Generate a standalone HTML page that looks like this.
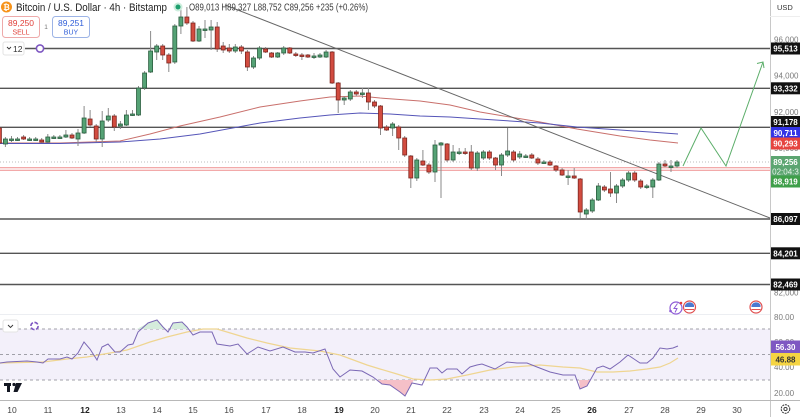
<!DOCTYPE html>
<html><head><meta charset="utf-8">
<style>
html,body{margin:0;padding:0;background:#fff;}
svg{display:block;font-family:"Liberation Sans",sans-serif;}
</style></head>
<body>
<svg width="800" height="417" viewBox="0 0 800 417" xmlns="http://www.w3.org/2000/svg">
<rect width="800" height="417" fill="#fff"/>

<!-- support zone / current price -->
<rect x="0" y="167" width="770" height="4" fill="#fbe3e3"/>
<line x1="0" y1="167.5" x2="770" y2="167.5" stroke="#f2a9a9" stroke-width="1"/>
<line x1="0" y1="170.5" x2="770" y2="170.5" stroke="#f2a9a9" stroke-width="1"/>
<line x1="0" y1="162" x2="770" y2="162" stroke="#bdbdbd" stroke-width="1" stroke-dasharray="1,2"/>

<!-- horizontal levels -->
<g stroke="#555" stroke-width="1.4">
<line x1="25" y1="48.5" x2="770" y2="48.5"/>
<line x1="0" y1="88.3" x2="770" y2="88.3"/>
<line x1="0" y1="127.3" x2="770" y2="127.3"/>
<line x1="0" y1="219" x2="770" y2="219"/>
<line x1="0" y1="253.3" x2="770" y2="253.3"/>
<line x1="0" y1="284.5" x2="770" y2="284.5"/>
</g>

<!-- moving averages -->
<polyline fill="none" stroke="#c9706c" stroke-width="1" points="0,143 60,143 120,141 150,134 180,126 220,117 260,107 300,101 330,97 360,96 380,98 420,101 450,105 480,112 510,117 540,122 577,129 620,136 650,140 678,143"/>
<polyline fill="none" stroke="#5555b8" stroke-width="1" points="0,143.5 60,143.5 120,142 160,139 200,134 260,123 300,118 330,115 360,113 390,114 420,116 450,117 480,119 510,121 540,123 577,127 620,130 650,132 678,134"/>

<!-- trendline -->
<line x1="225" y1="5" x2="770" y2="218" stroke="#666" stroke-width="1"/>

<!-- wicks -->
<path fill="none" stroke="#8a8a8a" stroke-width="1" d="M-0.6 125V146M5.4 137V147M11.5 136V142M17.5 137V141M23.6 135V140M29.6 137V141M35.7 137V141M41.7 138V143M47.8 134V143M53.8 135V139M59.9 135V139M65.9 130V138M72 133V139M78 129V146M84.1 106V134M90.1 110V127M96.2 124V142M102.2 111V147M108.3 108V122M114.3 114V131M120.4 121V129M126.4 110V126M132.5 110V116M138.5 86V116M144.6 71V90M150.6 31V73M156.7 44V60M162.7 44V60M168.8 53V72M174.8 24V64M180.9 7V34M186.9 7V25M193 21V42M199 26V42M205 20V38M211.1 20V50M217.2 22V52M223.2 42V53M229.3 44V53M235.3 44V53M241.4 45V54M247.4 50V71M253.5 56V69M259.5 46V60M265.6 47V53M271.6 52V58M277.7 52V58M283.7 46V55M289.8 47V54M295.8 52V57M301.9 53V60M307.9 54V58M314 53V59M320 53V58M326.1 50V58M332.1 51V84M338.2 82V113M344.2 96V105M350.3 90V101M356.3 90V96M362.4 88V98M368.4 88V110M374.5 100V108M380.5 105V135M386.6 125V131M392.6 122V136M398.7 125V150M404.7 136V157M410.8 155V188M416.8 158V181M422.9 150V166M428.9 163V174M435 140V182M441 142V198M447.1 143V162M453.1 145V162M459.2 148V155M465.2 148V155M471.3 145V170M477.3 151V171M483.4 150V160M489.4 150V160M495.5 157V170M501.5 153V176M507.6 128V157M513.6 150V162M519.7 151V159M525.8 154V158M531.8 153V159M537.9 157V165M543.9 160V164M550 160V166M556 165V172M562.1 168V176M568.1 170V185M574.2 168V179M580.2 178V218M586.3 208V220M592.3 198V213M598.4 183V201M604.4 185V192M610.5 172V197M616.5 184V203M622.6 178V188M628.6 171V182M634.7 171V182M640.7 179V189M646.8 184V189M652.8 178V198M658.9 162V181M665 160V167M671 160V172M677 160V168"/>

<!-- green bodies -->
<g fill="#55a275" stroke="#2b5e3f" stroke-width="0.8">
<rect x="3.4" y="139" width="4" height="5"/>
<rect x="9.5" y="139" width="4" height="1.5"/>
<rect x="15.5" y="139" width="4" height="1.5"/>
<rect x="27.6" y="139" width="4" height="1.5"/>
<rect x="33.7" y="139" width="4" height="1.5"/>
<rect x="45.8" y="137" width="4" height="5"/>
<rect x="51.8" y="137" width="4" height="1.5"/>
<rect x="57.9" y="137" width="4" height="1.5"/>
<rect x="63.9" y="135" width="4" height="2"/>
<rect x="76" y="133" width="4" height="6"/>
<rect x="82.1" y="118" width="4" height="15"/>
<rect x="100.2" y="121" width="4" height="18"/>
<rect x="106.3" y="116" width="4" height="4"/>
<rect x="118.4" y="124" width="4" height="2"/>
<rect x="124.4" y="115" width="4" height="10"/>
<rect x="130.5" y="114" width="4" height="1.5"/>
<rect x="136.5" y="88" width="4" height="27"/>
<rect x="142.6" y="73" width="4" height="15"/>
<rect x="148.6" y="51" width="4" height="21"/>
<rect x="154.7" y="46" width="4" height="6"/>
<rect x="172.8" y="26" width="4" height="36"/>
<rect x="178.9" y="17" width="4" height="9"/>
<rect x="197" y="29" width="4" height="12"/>
<rect x="203" y="29" width="4" height="1.5"/>
<rect x="209.1" y="27" width="4" height="3"/>
<rect x="233.3" y="47" width="4" height="4"/>
<rect x="251.5" y="58" width="4" height="9"/>
<rect x="257.5" y="48" width="4" height="10"/>
<rect x="275.7" y="53" width="4" height="4"/>
<rect x="281.7" y="48" width="4" height="5"/>
<rect x="312" y="56" width="4" height="1.5"/>
<rect x="318" y="55" width="4" height="2"/>
<rect x="324.1" y="52" width="4" height="5"/>
<rect x="342.2" y="98" width="4" height="2"/>
<rect x="348.3" y="92" width="4" height="7"/>
<rect x="360.4" y="93" width="4" height="1.5"/>
<rect x="390.6" y="124" width="4" height="4"/>
<rect x="414.8" y="160" width="4" height="18"/>
<rect x="433" y="145" width="4" height="27"/>
<rect x="439" y="143" width="4" height="2"/>
<rect x="451.1" y="152" width="4" height="8"/>
<rect x="457.2" y="152" width="4" height="1.5"/>
<rect x="475.3" y="153" width="4" height="15"/>
<rect x="481.4" y="152" width="4" height="6"/>
<rect x="499.5" y="155" width="4" height="10"/>
<rect x="505.6" y="151" width="4" height="4"/>
<rect x="517.7" y="154" width="4" height="3"/>
<rect x="523.8" y="156" width="4" height="1.5"/>
<rect x="541.9" y="162" width="4" height="1.5"/>
<rect x="566.1" y="176" width="4" height="1.5"/>
<rect x="584.3" y="210" width="4" height="4"/>
<rect x="590.3" y="200" width="4" height="11"/>
<rect x="596.4" y="186" width="4" height="14"/>
<rect x="614.5" y="186" width="4" height="7"/>
<rect x="620.6" y="180" width="4" height="6"/>
<rect x="626.6" y="173" width="4" height="7"/>
<rect x="644.8" y="186" width="4" height="1.5"/>
<rect x="650.8" y="180" width="4" height="7"/>
<rect x="656.9" y="164" width="4" height="16"/>
<rect x="669" y="166" width="4" height="1.5"/>
<rect x="675" y="162" width="4" height="4"/>
</g>

<!-- red bodies -->
<g fill="#d24c40" stroke="#7d261f" stroke-width="0.8">
<rect x="-2.6" y="128" width="4" height="15"/>
<rect x="21.6" y="137" width="4" height="2"/>
<rect x="39.7" y="140" width="4" height="2"/>
<rect x="70" y="135" width="4" height="3"/>
<rect x="88.1" y="119" width="4" height="6"/>
<rect x="94.2" y="126" width="4" height="13"/>
<rect x="112.3" y="116" width="4" height="11"/>
<rect x="160.7" y="46" width="4" height="9"/>
<rect x="166.8" y="55" width="4" height="8"/>
<rect x="184.9" y="17" width="4" height="6"/>
<rect x="191" y="23" width="4" height="18"/>
<rect x="215.2" y="27" width="4" height="22"/>
<rect x="221.2" y="46" width="4" height="4"/>
<rect x="227.3" y="48" width="4" height="3"/>
<rect x="239.4" y="47" width="4" height="4"/>
<rect x="245.4" y="52" width="4" height="15"/>
<rect x="263.6" y="49" width="4" height="3"/>
<rect x="269.6" y="53" width="4" height="4"/>
<rect x="287.8" y="48" width="4" height="5"/>
<rect x="293.8" y="54" width="4" height="1.5"/>
<rect x="299.9" y="55" width="4" height="1.5"/>
<rect x="305.9" y="55" width="4" height="2"/>
<rect x="330.1" y="52" width="4" height="31"/>
<rect x="336.2" y="83" width="4" height="17"/>
<rect x="354.3" y="92" width="4" height="2"/>
<rect x="366.4" y="93" width="4" height="9"/>
<rect x="372.5" y="102" width="4" height="4"/>
<rect x="378.5" y="106" width="4" height="22"/>
<rect x="384.6" y="127" width="4" height="3"/>
<rect x="396.7" y="127" width="4" height="11"/>
<rect x="402.7" y="138" width="4" height="17"/>
<rect x="408.8" y="156" width="4" height="22"/>
<rect x="420.9" y="161" width="4" height="4"/>
<rect x="426.9" y="165" width="4" height="7"/>
<rect x="445.1" y="144" width="4" height="16"/>
<rect x="463.2" y="152" width="4" height="1.5"/>
<rect x="469.3" y="152" width="4" height="16"/>
<rect x="487.4" y="152" width="4" height="6"/>
<rect x="493.5" y="158" width="4" height="7"/>
<rect x="511.6" y="152" width="4" height="8"/>
<rect x="529.8" y="155" width="4" height="3"/>
<rect x="535.9" y="159" width="4" height="4"/>
<rect x="548" y="162" width="4" height="3"/>
<rect x="554" y="166" width="4" height="4"/>
<rect x="560.1" y="170" width="4" height="5"/>
<rect x="572.2" y="176" width="4" height="2"/>
<rect x="578.2" y="179" width="4" height="33"/>
<rect x="602.4" y="187" width="4" height="3"/>
<rect x="608.5" y="189" width="4" height="4"/>
<rect x="632.7" y="173" width="4" height="7"/>
<rect x="638.7" y="181" width="4" height="6"/>
<rect x="663" y="164" width="4" height="2"/>
</g>

<!-- projection -->
<polyline fill="none" stroke="#5cae6a" stroke-width="1" points="683,166 701,128 726,166 763,62"/>
<polyline fill="none" stroke="#5cae6a" stroke-width="1" points="757,63.5 763,62 764,68"/>

<!-- header -->
<circle cx="6.5" cy="7" r="5.5" fill="#f7931a"/>
<text x="6.5" y="10" font-size="8" fill="#fff" text-anchor="middle" font-weight="bold">₿</text>
<text x="16" y="11" font-size="11" fill="#222" textLength="151" lengthAdjust="spacingAndGlyphs">Bitcoin / U.S. Dollar · 4h · Bitstamp</text>
<circle cx="178" cy="7" r="4.5" fill="#cdeedd"/>
<circle cx="178" cy="7" r="2.5" fill="#1e9f6e"/>
<text x="189" y="10.5" font-size="10" fill="#3a3a3a" textLength="179" lengthAdjust="spacingAndGlyphs">O89,013 H89,327 L88,752 C89,256 +235 (+0.26%)</text>

<rect x="2.5" y="16.5" width="37" height="21" rx="3" fill="#fff" stroke="#eeaaaa"/>
<text x="21" y="26" font-size="8.5" fill="#e0403a" text-anchor="middle">89,250</text>
<text x="21" y="34.5" font-size="7" fill="#e0403a" text-anchor="middle">SELL</text>
<text x="46" y="29" font-size="6.5" fill="#777" text-anchor="middle">1</text>
<rect x="52.5" y="16.5" width="37" height="21" rx="3" fill="#fff" stroke="#9db4e6"/>
<text x="71" y="26" font-size="8.5" fill="#2f5ed8" text-anchor="middle">89,251</text>
<text x="71" y="34.5" font-size="7" fill="#2f5ed8" text-anchor="middle">BUY</text>

<rect x="3" y="42" width="21" height="13" rx="2" fill="#fff" stroke="#e3e3e3"/>
<path d="M7 47 L9 49 L11 47" fill="none" stroke="#333" stroke-width="0.9"/>
<text x="13" y="52" font-size="8.5" fill="#333">12</text>
<circle cx="40" cy="48.5" r="3.6" fill="#fff" stroke="#7e57c2" stroke-width="1.6"/>

<!-- RSI pane -->
<line x1="0" y1="314.5" x2="770" y2="314.5" stroke="#eceef2" stroke-width="1"/>
<rect x="0" y="329" width="770" height="51" fill="#f3f0fa"/>
<g stroke="#a0a0a8" stroke-width="0.9" stroke-dasharray="3,3">
<line x1="0" y1="329" x2="770" y2="329"/>
<line x1="0" y1="354.5" x2="770" y2="354.5"/>
<line x1="0" y1="380" x2="770" y2="380"/>
</g>
<polygon fill="#d5ecdc" points="137,329 148,323 157,320 163,327 164,329"/>
<polygon fill="#d5ecdc" points="171,329 173,323 182,322 187,327 188,329"/>
<polygon fill="#f5c0c8" points="378,380 382,384 390,385 400,392 405,396 412,383 414,380"/>
<polygon fill="#f5c0c8" points="579,380 580,389 587,386 591,380"/>
<polyline fill="none" stroke="#efd591" stroke-width="1.2" points="0,363 43,362 67,359 87,357 110,353 127,350 150,342 167,337 187,332 203,329 217,329 227,332 247,338 267,343 290,348 320,351 340,355 367,365 380,369 397,374 413,379 430,380 447,379 467,375 490,370 513,367 540,365 563,367 580,368 597,372 613,372 630,371 647,369 660,367 670,363 678,358"/>
<polyline fill="none" stroke="#7b68b5" stroke-width="1" points="0,363 7,362 27,361 37,362 43,363 48,359 60,359 67,357 72,359 78,353 84,342 90,349 97,360 102,347 108,344 115,352 120,352 128,345 133,344 138,332 148,323 157,320 163,327 168,332 173,323 182,322 187,327 193,335 200,332 212,332 217,344 230,346 238,344 247,354 258,347 270,351 283,347 295,352 305,352 313,353 325,349 333,369 340,377 350,370 362,371 373,377 382,384 390,385 400,392 405,396 412,383 422,385 430,368 437,368 442,373 447,369 457,369 462,374 470,367 477,365 482,364 495,369 507,362 517,363 527,363 537,367 550,372 563,375 575,375 580,389 587,386 597,368 603,366 610,369 620,362 628,355 640,363 647,363 653,358 660,348 667,349 673,348 678,346"/>

<rect x="3" y="320" width="15" height="12" rx="2" fill="#fff" stroke="#e3e3e3"/>
<path d="M8 325 L10.5 327.5 L13 325" fill="none" stroke="#333" stroke-width="0.9"/>
<circle cx="34.5" cy="326" r="3.6" fill="none" stroke="#7e57c2" stroke-width="1.6" stroke-dasharray="4,1.6"/>

<!-- TV logo -->
<g fill="#131722">
<rect x="4" y="383" width="7" height="3"/>
<rect x="7" y="383" width="3" height="9"/>
<circle cx="14" cy="384.5" r="1.6"/>
<polygon points="16,383 22,383 17.5,392 13.5,392"/>
</g>

<!-- event icons -->
<circle cx="676" cy="308" r="6" fill="#fff" stroke="#8e5bd6" stroke-width="1.2"/>
<path d="M677.5 303.5 L674 308.5 L677 308.5 L675 312.5" fill="none" stroke="#8e5bd6" stroke-width="1"/>
<circle cx="670.5" cy="311" r="1.3" fill="#8e5bd6"/>
<circle cx="681" cy="303" r="1.3" fill="#e53935"/>
<circle cx="689.5" cy="307" r="6" fill="#fff" stroke="#e05050" stroke-width="1.2"/>
<path d="M684.8 306 A5 5 0 0 1 694 305 L694 307 L685 307 Z" fill="#4a78d0"/>
<line x1="685" y1="309.5" x2="694" y2="309.5" stroke="#e05050" stroke-width="1"/>
<circle cx="756" cy="307" r="6" fill="#fff" stroke="#e05050" stroke-width="1.2"/>
<path d="M751.3 306 A5 5 0 0 1 760.5 305 L760.5 307 L751.5 307 Z" fill="#4a78d0"/>
<line x1="751.5" y1="309.5" x2="760.5" y2="309.5" stroke="#e05050" stroke-width="1"/>

<!-- bottom axis -->
<line x1="0" y1="400.5" x2="770" y2="400.5" stroke="#b8b8b8" stroke-width="1"/>
<g font-size="8.5" fill="#444" text-anchor="middle">
<text x="12" y="413">10</text>
<text x="48" y="413">11</text>
<text x="85" y="413" font-weight="bold" fill="#222">12</text>
<text x="121" y="413">13</text>
<text x="157" y="413">14</text>
<text x="193" y="413">15</text>
<text x="229" y="413">16</text>
<text x="266" y="413">17</text>
<text x="302" y="413">18</text>
<text x="339" y="413" font-weight="bold" fill="#222">19</text>
<text x="375" y="413">20</text>
<text x="411" y="413">21</text>
<text x="447" y="413">22</text>
<text x="484" y="413">23</text>
<text x="520" y="413">24</text>
<text x="556" y="413">25</text>
<text x="592" y="413" font-weight="bold" fill="#222">26</text>
<text x="629" y="413">27</text>
<text x="665" y="413">28</text>
<text x="701" y="413">29</text>
<text x="737" y="413">30</text>
</g>

<!-- price axis -->
<rect x="770" y="0" width="30" height="417" fill="#fff"/>
<line x1="770.5" y1="0" x2="770.5" y2="417" stroke="#c8c8c8" stroke-width="1"/>
<text x="777" y="10" font-size="7.5" fill="#333">USD</text>
<line x1="770" y1="16.5" x2="800" y2="16.5" stroke="#eee" stroke-width="1"/>
<g font-size="8" fill="#7a7a7a">
<text x="774" y="42.5">96,000</text>
<text x="774" y="78.5">94,000</text>
<text x="774" y="115">92,000</text>
<text x="774" y="151">90,000</text>
<text x="774" y="295.5">82,000</text>
<text x="774" y="320">80.00</text>
<text x="774" y="345">60.00</text>
<text x="774" y="370">40.00</text>
<text x="774" y="396">20.00</text>
</g>
<g font-size="8" fill="#fff" text-anchor="middle" font-weight="bold">
<rect x="771" y="42.5" width="29" height="12" fill="#111"/><text x="785.5" y="51.5">95,513</text>
<rect x="771" y="82.3" width="29" height="12" fill="#111"/><text x="785.5" y="91.3">93,332</text>
<rect x="771" y="116" width="29" height="12" fill="#111"/><text x="785.5" y="125">91,178</text>
<rect x="771" y="127" width="29" height="12" fill="#3434e6"/><text x="785.5" y="136">90,711</text>
<rect x="771" y="137.5" width="29" height="12" fill="#e6443f"/><text x="785.5" y="146.5">90,293</text>
<rect x="771" y="156" width="29" height="22" fill="#5ca571"/><text x="785.5" y="165">89,256</text>
<text x="785.5" y="174.5" font-weight="normal" fill="#e8f5ea">02:04:3</text>
<rect x="771" y="175.5" width="29" height="12" fill="#3f9f4a"/><text x="785.5" y="184.5">88,919</text>
<rect x="771" y="213" width="29" height="12" fill="#111"/><text x="785.5" y="222">86,097</text>
<rect x="771" y="247.3" width="29" height="12" fill="#111"/><text x="785.5" y="256.3">84,201</text>
<rect x="771" y="278.5" width="29" height="12" fill="#111"/><text x="785.5" y="287.5">82,469</text>
<rect x="771" y="340.5" width="29" height="12.5" fill="#7e57c2"/><text x="785.5" y="350">56.30</text>
<rect x="771" y="353" width="29" height="12.5" fill="#f5d442"/><text x="785.5" y="362.5" fill="#333">46.88</text>
</g>
<line x1="770" y1="400.5" x2="800" y2="400.5" stroke="#b8b8b8" stroke-width="1"/>
<circle cx="785.5" cy="409" r="4.3" fill="none" stroke="#333" stroke-width="1" stroke-dasharray="2,0.8"/>
<circle cx="785.5" cy="409" r="1.6" fill="none" stroke="#333" stroke-width="0.9"/>
</svg>
</body></html>
